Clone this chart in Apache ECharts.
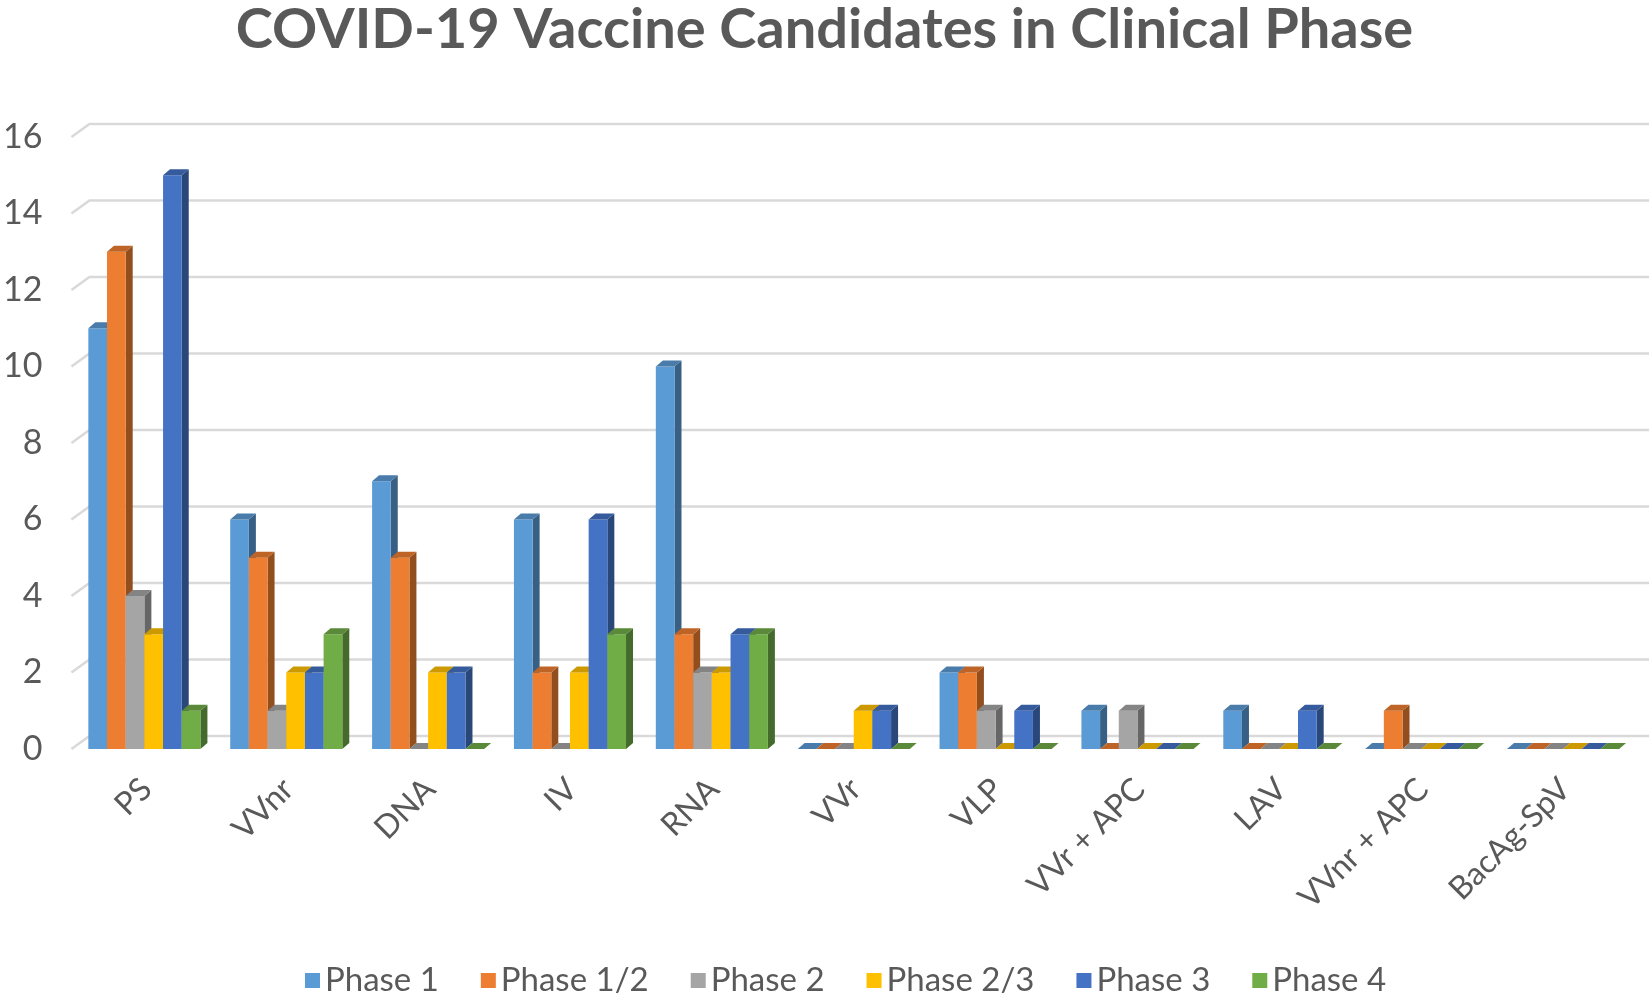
<!DOCTYPE html>
<html>
<head>
<meta charset="utf-8">
<script src="https://cdn.jsdelivr.net/npm/echarts@6/dist/echarts.min.js"></script>
<style>
html,body{margin:0;padding:0;background:#fff;}
#chart{width:1649px;height:1002px;}
</style>
</head>
<body>
<div id="chart"></div>
<script>
const categories = ['PS','VVnr','DNA','IV','RNA','VVr','VLP','VVr + APC','LAV','VVnr + APC','BacAg-SpV'];
const seriesNames = ['Phase 1','Phase 1/2','Phase 2','Phase 2/3','Phase 3','Phase 4'];
const phase1   = [11, 6, 7, 6, 10, 0, 2, 1, 1, 0, 0];
const phase12  = [13, 5, 5, 2, 3, 0, 2, 0, 0, 1, 0];
const phase2   = [4, 1, 0, 0, 2, 0, 1, 1, 0, 0, 0];
const phase23  = [3, 2, 2, 2, 2, 1, 0, 0, 0, 0, 0];
const phase3   = [15, 2, 2, 6, 3, 1, 1, 0, 1, 0, 0];
const phase4   = [1, 3, 0, 3, 3, 0, 0, 0, 0, 0, 0];
const yTicks = [0, 2, 4, 6, 8, 10, 12, 14, 16];

const seriesValues = [phase1, phase12, phase2, phase23, phase3, phase4];
const colors = ['#5B9BD5','#ED7D31','#A5A5A5','#FFC000','#4472C4','#70AD47'];

function shade(hex, f){
  const n = parseInt(hex.slice(1),16);
  const r = Math.round(((n>>16)&255)*f), g = Math.round(((n>>8)&255)*f), b = Math.round((n&255)*f);
  return 'rgb('+r+','+g+','+b+')';
}

const FONT = 'Lato';
const TXT = '#595959';
const DEPTH_X = 18, DEPTH_Y = -13;   // back wall offset
const BAR_DX = 7, BAR_DY = -6;       // bar 3D offset
const GROUP_RATIO = 0.79;

const chart = echarts.init(document.getElementById('chart'), null, {renderer:'canvas'});

const gridSeries = {
  type: 'custom',
  name: '__grid',
  silent: true,
  z: 1,
  data: yTicks.map(v => [0, v]),
  renderItem: function(params, api){
    const cs = params.coordSys;
    const y = api.coord([0, api.value(1)])[1];
    const x0 = cs.x - 4;
    return {
      type: 'polyline',
      shape: {points: [[x0, y], [x0 + DEPTH_X, y + DEPTH_Y], [cs.x + cs.width + DEPTH_X + 20, y + DEPTH_Y]]},
      style: {stroke: '#D9D9D9', lineWidth: 2.5, fill: null}
    };
  }
};

const barSeries = seriesNames.map((name, k) => ({
  type: 'custom',
  name: name,
  z: 2,
  itemStyle: {color: colors[k]},
  data: seriesValues[k].map((v, i) => [i, v]),
  renderItem: function(params, api){
    const idx = api.value(0), v = api.value(1);
    const top = api.coord([idx, v]);
    const base = api.coord([idx, 0]);
    const band = api.size([1, 0])[0];
    const bw = band * GROUP_RATIO / 6;
    const x0 = top[0] - 3 * bw + k * bw - 2;
    const yT = top[1], yB = base[1];
    const c = colors[k];
    return {
      type: 'group',
      children: [
        {type: 'polygon', shape: {points: [[x0 + bw, yT], [x0 + bw + BAR_DX, yT + BAR_DY], [x0 + bw + BAR_DX, yB + BAR_DY], [x0 + bw, yB]]},
         style: {fill: shade(c, 0.62)}},
        {type: 'rect', shape: {x: x0, y: yT, width: bw, height: yB - yT}, style: {fill: c}},
        {type: 'polygon', shape: {points: [[x0, yT], [x0 + BAR_DX, yT + BAR_DY], [x0 + bw + BAR_DX, yT + BAR_DY], [x0 + bw, yT]]},
         style: {fill: shade(c, 0.8)}}
      ]
    };
  }
}));

chart.setOption({
  animation: false,
  backgroundColor: '#ffffff',
  title: {
    text: 'COVID-19 Vaccine Candidates in Clinical Phase',
    left: 'center',
    top: -3,
    textStyle: {fontFamily: FONT, fontWeight: 'bold', fontSize: 56, color: TXT}
  },
  legend: {
    data: seriesNames,
    bottom: 0,
    left: 300,
    icon: 'rect',
    itemWidth: 15,
    itemHeight: 15,
    itemGap: 42,
    textStyle: {fontFamily: FONT, fontSize: 33, color: TXT}
  },
  grid: {left: 69, right: 13, top: 137, bottom: 1002 - 749, containLabel: false},
  xAxis: {
    type: 'category',
    data: categories,
    axisLine: {show: false},
    axisTick: {show: false},
    splitLine: {show: false},
    axisLabel: {rotate: 45, margin: 35, fontFamily: FONT, fontSize: 32, color: TXT, interval: 0}
  },
  yAxis: {
    type: 'value',
    min: 0, max: 16, interval: 2,
    axisLine: {show: false},
    axisTick: {show: false},
    splitLine: {show: false},
    axisLabel: {margin: 33, fontFamily: FONT, fontSize: 34, color: TXT}
  },
  series: [gridSeries].concat(barSeries)
});
</script>
</body>
</html>
